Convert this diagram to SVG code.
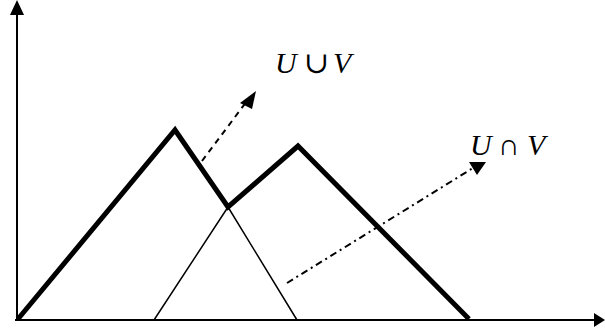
<svg xmlns="http://www.w3.org/2000/svg" width="605" height="332" viewBox="0 0 605 332">
<style>
.thin{fill:none;stroke:#000;stroke-width:1.5;stroke-linejoin:miter}
.thick{fill:none;stroke:#000;stroke-width:5;stroke-linejoin:miter}
.axis{fill:none;stroke:#000;stroke-width:2}
.lbl{font-family:"Liberation Serif","DejaVu Serif",serif;font-size:30px;fill:#000}
.it{font-style:italic}
.op{font-size:30px}
</style>
<rect width="605" height="332" fill="#fff"/>
<g id="axes">
<line class="axis" x1="17" y1="321" x2="17" y2="12"/>
<polygon points="17,0 10,15 24,15" fill="#000"/>
<line class="axis" x1="15" y1="320" x2="595" y2="320"/>
<polygon points="605,320 594,313 594,327" fill="#000"/>
</g>
<g id="curves">
<polyline class="thin" points="154,320 228,207 297,320"/>
<polyline class="thick" points="18,319 175,130 228,207 298,146 469,319"/>
</g>
<g id="connectors">
<line x1="202" y1="161" x2="247" y2="101" stroke="#000" stroke-width="2" stroke-dasharray="6,5"/>
<polygon points="256,91 240,103 252,109" fill="#000"/>
<line x1="287" y1="283" x2="473" y2="168" stroke="#000" stroke-width="2" stroke-dasharray="7,4,2,4"/>
<polygon points="469,162 486,162 477,175" fill="#000"/>
</g>
<g id="label-union">
<text class="lbl" x="275" y="73"><tspan class="it">U</tspan><tspan class="op" x="304">∪</tspan><tspan class="it" x="333">V</tspan></text>
</g>
<g id="label-intersection">
<text class="lbl" x="470" y="155"><tspan class="it">U</tspan><tspan class="op" x="498">∩</tspan><tspan class="it" x="527">V</tspan></text>
</g>
</svg>
